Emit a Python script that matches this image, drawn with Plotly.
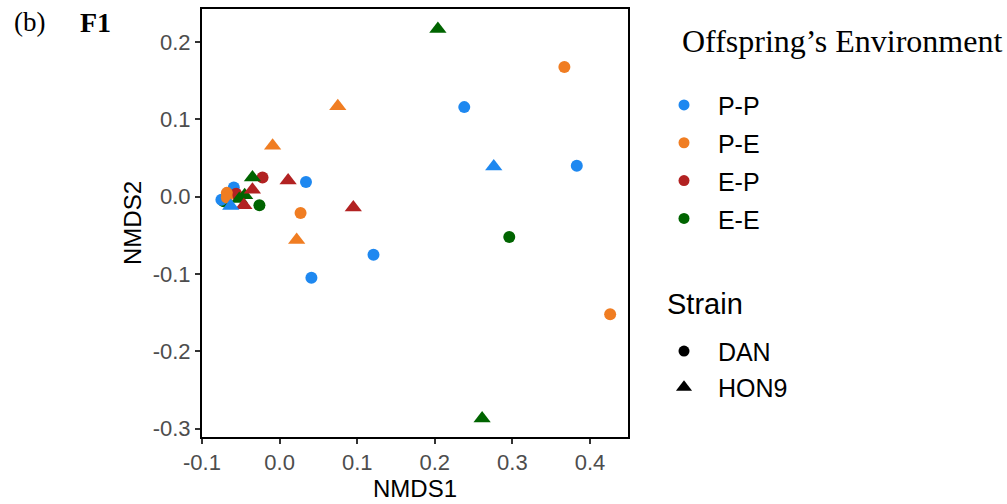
import plotly.graph_objects as go

# ---------------- data ----------------
envs = ["P-P", "P-E", "E-P", "E-E"]
strains = ["DAN", "HON9"]
env_colors = {"P-P": "#1E88F0", "P-E": "#F07D22", "E-P": "#B22222", "E-E": "#006400"}
strain_symbols = {"DAN": "circle", "HON9": "triangle-up"}

pp_dan_x = [0.238, 0.383, 0.034, 0.121, 0.041, -0.059, -0.075]
pp_dan_y = [0.116, 0.040, 0.019, -0.075, -0.105, 0.012, -0.004]
pp_hon_x = [0.276, -0.063]
pp_hon_y = [0.039, -0.012]

pe_dan_x = [0.367, 0.027, 0.426, -0.068, -0.068]
pe_dan_y = [0.168, -0.021, -0.152, 0.005, -0.001]
pe_hon_x = [0.075, -0.009, 0.022]
pe_hon_y = [0.117, 0.066, -0.056]

ep_dan_x = [-0.022, -0.056]
ep_dan_y = [0.025, 0.004]
ep_hon_x = [0.011, -0.035, 0.095, -0.046]
ep_hon_y = [0.021, 0.009, -0.014, -0.011]

ee_dan_x = [-0.026, 0.296, -0.072]
ee_dan_y = [-0.011, -0.052, -0.006]
ee_hon_x = [0.204, -0.035, 0.261, -0.045, -0.052]
ee_hon_y = [0.217, 0.025, -0.287, 0.002, -0.003]

# drawing order (later = on top)
groups = [
    ("E-E", "DAN", ee_dan_x, ee_dan_y),
    ("P-P", "DAN", pp_dan_x, pp_dan_y),
    ("E-P", "DAN", ep_dan_x, ep_dan_y),
    ("P-E", "DAN", pe_dan_x, pe_dan_y),
    ("E-E", "HON9", ee_hon_x, ee_hon_y),
    ("E-P", "HON9", ep_hon_x, ep_hon_y),
    ("P-E", "HON9", pe_hon_x, pe_hon_y),
    ("P-P", "HON9", pp_hon_x, pp_hon_y),
]

x_ticks = [-0.1, 0.0, 0.1, 0.2, 0.3, 0.4]
x_tick_labels = ["-0.1", "0.0", "0.1", "0.2", "0.3", "0.4"]
y_ticks = [-0.3, -0.2, -0.1, 0.0, 0.1, 0.2]
y_tick_labels = ["-0.3", "-0.2", "-0.1", "0.0", "0.1", "0.2"]

SANS = "Liberation Sans, Arial, sans-serif"
SERIF = "Liberation Serif, Times New Roman, serif"

fig = go.Figure()

for env, strain, xs, ys in groups:
    fig.add_trace(go.Scatter(
        x=xs, y=ys, mode="markers", showlegend=False,
        marker=dict(color=env_colors[env], symbol=strain_symbols[strain],
                    size=12 if strain == "DAN" else 15, line=dict(width=0)),
        name=f"{env} {strain}",
    ))

# legend entries: environment (colour)
for env in envs:
    fig.add_trace(go.Scatter(
        x=[None], y=[None], mode="markers", legend="legend",
        marker=dict(color=env_colors[env], symbol="circle", size=11),
        name=f"<span style='font-size:25px'>\u00a0\u00a0{env}</span>",
    ))
# legend entries: strain (shape)
for s in strains:
    fig.add_trace(go.Scatter(
        x=[None], y=[None], mode="markers", legend="legend2",
        marker=dict(color="black", symbol=strain_symbols[s], size=11 if s == "DAN" else 14),
        name=f"<span style='font-size:25px'>\u00a0\u00a0{s}</span>",
    ))

L, R, T, B = 202, 379, 9, 67
PW, PH = 1007 - L - R, 504 - T - B


def px2x(px):
    return (px - L) / PW


def py2y(py):
    return (504 - B - py) / PH


fig.update_layout(
    width=1007, height=504,
    margin=dict(l=L, r=R, t=T, b=B, autoexpand=False),
    paper_bgcolor="white", plot_bgcolor="white",
    font=dict(family=SANS, color="black"),
    xaxis=dict(
        range=[-0.1, 0.449], tickvals=x_ticks, ticktext=x_tick_labels,
        showgrid=False, zeroline=False,
        showline=True, mirror=True, linecolor="black", linewidth=2,
        ticks="outside", ticklen=5, tickwidth=1.5, tickcolor="#333333",
        tickfont=dict(size=22, color="#4D4D4D", family=SANS),
        title=dict(text="NMDS1", font=dict(size=24, color="black", family=SANS), standoff=6),
    ),
    yaxis=dict(
        range=[-0.311, 0.243], tickvals=y_ticks, ticktext=y_tick_labels,
        showgrid=False, zeroline=False,
        showline=True, mirror=True, linecolor="black", linewidth=2,
        ticks="outside", ticklen=5, tickwidth=1.5, tickcolor="#333333",
        tickfont=dict(size=22, color="#4D4D4D", family=SANS),
        title=dict(text="NMDS2", font=dict(size=24, color="black", family=SANS), standoff=4),
    ),
    legend=dict(
        x=px2x(664), y=py2y(81), xanchor="left", yanchor="top",
        font=dict(size=26.8, family=SANS, color="black"),
        bgcolor="rgba(0,0,0,0)", borderwidth=0, itemwidth=30,
        traceorder="normal",
    ),
    legend2=dict(
        x=px2x(664), y=py2y(328), xanchor="left", yanchor="top",
        font=dict(size=25.5, family=SANS, color="black"),
        bgcolor="rgba(0,0,0,0)", borderwidth=0, itemwidth=30,
        traceorder="normal",
    ),
    annotations=[
        dict(text="Offspring\u2019s Environment", x=px2x(680), y=py2y(41),
             xref="paper", yref="paper", xanchor="left", yanchor="middle",
             showarrow=False, font=dict(family=SERIF, size=32, color="black")),
        dict(text="Strain", x=px2x(665), y=py2y(304),
             xref="paper", yref="paper", xanchor="left", yanchor="middle",
             showarrow=False, font=dict(family=SANS, size=29, color="black")),
        dict(text="(b)", x=px2x(12), y=py2y(22),
             xref="paper", yref="paper", xanchor="left", yanchor="middle",
             showarrow=False, font=dict(family=SERIF, size=27, color="black")),
        dict(text="<b>F1</b>", x=px2x(78), y=py2y(22),
             xref="paper", yref="paper", xanchor="left", yanchor="middle",
             showarrow=False, font=dict(family=SERIF, size=28, color="black")),
    ],
)

fig.write_html("out.html")
